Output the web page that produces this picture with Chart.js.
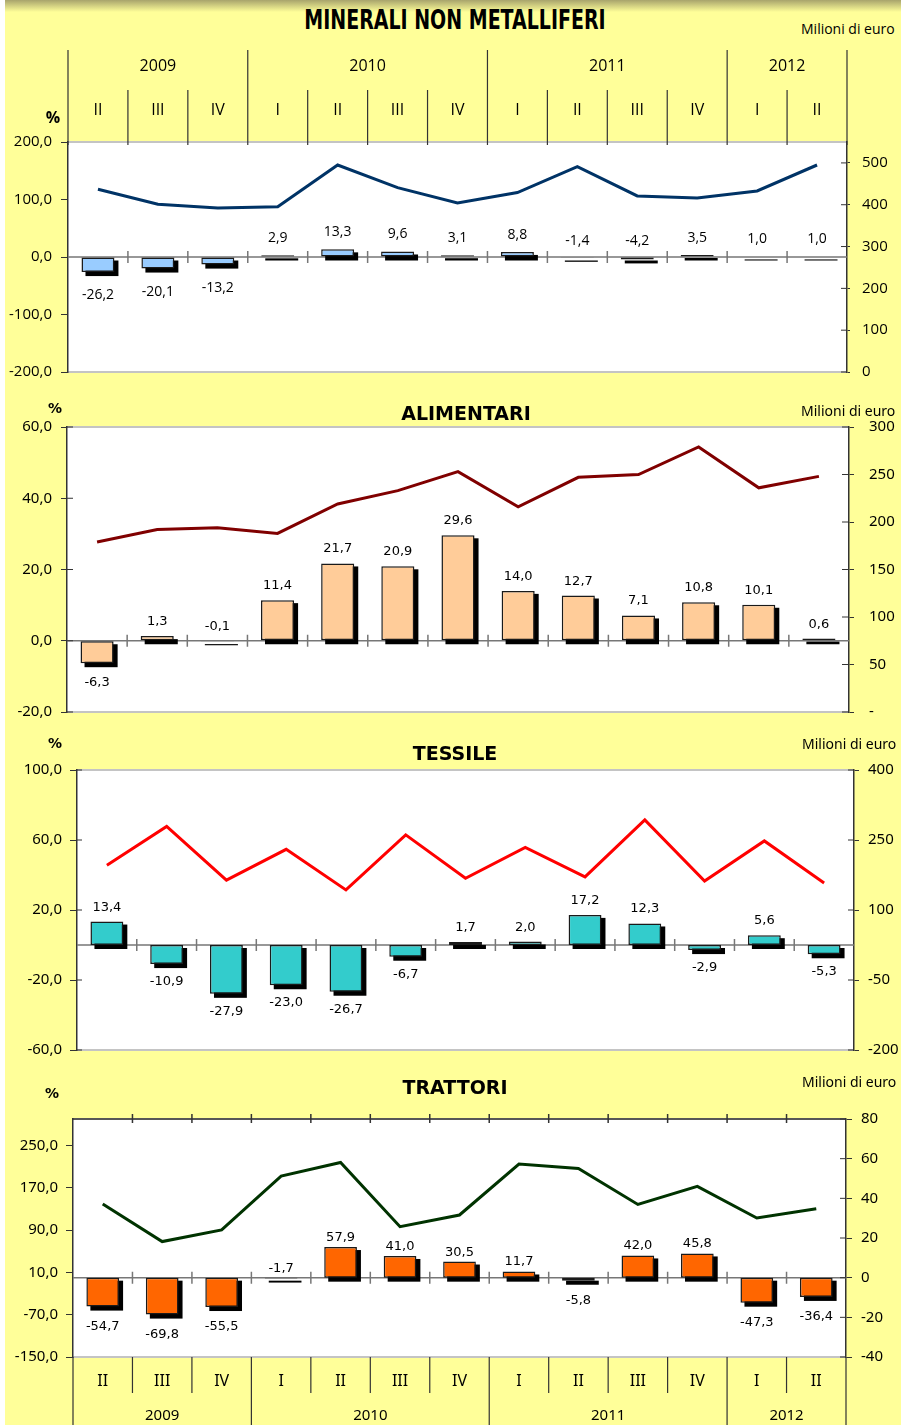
<!DOCTYPE html>
<html>
<head>
<meta charset="utf-8">
<script src="https://cdn.jsdelivr.net/npm/chart.js@4.4.1/dist/chart.umd.min.js"></script>
<style>
  html, body { margin: 0; padding: 0; }
  body { width: 901px; height: 1425px; overflow: hidden; position: relative; background: #fff; }
  #sheet { position: absolute; left: 5px; top: 0; width: 896px; height: 1425px; background: #ffff99; }
  #sheet:before { content: ""; position: absolute; left: 0; top: 0; right: 0; height: 12px;
    background: linear-gradient(#a8a46c, rgba(255, 255, 153, 0)); }
  canvas { position: absolute; left: 0; }
  .t { position: absolute; white-space: nowrap; transform: translate(-50%, -50%); color: #000; }
  .m { position: absolute; white-space: nowrap; transform: translateY(-50%); color: #000; }
</style>
</head>
<body>
<div id="sheet"></div>

<canvas id="c1" width="901" height="362" style="top:40px"></canvas>
<canvas id="c2" width="901" height="345" style="top:397px"></canvas>
<canvas id="c3" width="901" height="340" style="top:740px"></canvas>
<canvas id="c4" width="901" height="336" style="top:1089px"></canvas>

<div class="t" style="left:455px;top:20px;font:bold 26px 'DejaVu Sans';transform:translate(-50%,-50%) scaleX(0.73)">MINERALI NON METALLIFERI</div>
<div class="m" style="left:801px;top:28px;font:14px 'Open Sans'">Milioni di euro</div>
<div class="t" style="left:53px;top:117px;font:bold 16px 'Open Sans'">%</div>

<div class="t" style="left:55px;top:408px;font:bold 14px 'DejaVu Sans'">%</div>
<div class="t" style="left:466px;top:413px;font:bold 19px 'DejaVu Sans'">ALIMENTARI</div>
<div class="m" style="left:801px;top:410px;font:14px 'Noto Sans'">Milioni di euro</div>

<div class="t" style="left:55px;top:743px;font:bold 14px 'DejaVu Sans'">%</div>
<div class="t" style="left:455px;top:753px;font:bold 19px 'DejaVu Sans'">TESSILE</div>
<div class="m" style="left:802px;top:743px;font:14px 'Noto Sans'">Milioni di euro</div>

<div class="t" style="left:52px;top:1093px;font:bold 14px 'DejaVu Sans'">%</div>
<div class="t" style="left:455px;top:1087px;font:bold 19px 'DejaVu Sans'">TRATTORI</div>
<div class="m" style="left:802px;top:1081px;font:14px 'Noto Sans'">Milioni di euro</div>

<script>
// trimestri e anni
const quarters = ["II", "III", "IV", "I", "II", "III", "IV", "I", "II", "III", "IV", "I", "II"];
const years = ["2009", "2010", "2011", "2012"];
const quartersPerYear = [3, 4, 4, 2];

// variazioni % (barre) e valori in milioni di euro (linea)
const mineraliVar = [-26.2, -20.1, -13.2, 2.9, 13.3, 9.6, 3.1, 8.8, -1.4, -4.2, 3.5, 1.0, 1.0];
const mineraliVal = [437, 401, 392, 395, 495, 441, 404, 429, 491, 421, 416, 433, 495];

const alimentariVar = [-6.3, 1.3, -0.1, 11.4, 21.7, 20.9, 29.6, 14.0, 12.7, 7.1, 10.8, 10.1, 0.6];
const alimentariVal = [179, 192, 194, 188, 219, 233, 253, 216, 247, 250, 279, 236, 248];

const tessileVar = [13.4, -10.9, -27.9, -23.0, -26.7, -6.7, 1.7, 2.0, 17.2, 12.3, -2.9, 5.6, -5.3];
const tessileVal = [196, 279, 164, 230, 143, 261, 168, 234, 171, 293, 162, 248, 158];

const trattoriVar = [-54.7, -69.8, -55.5, -1.7, 57.9, 41.0, 30.5, 11.7, -5.8, 42.0, 45.8, -47.3, -36.4];
const trattoriVal = [37.1, 18.2, 24.1, 51.2, 58.1, 25.7, 31.6, 57.3, 55.0, 36.9, 46.0, 30.1, 34.8];

// tacche degli assi
const mineraliTicksL = [-200, -100, 0, 100, 200];
const mineraliTicksR = [0, 100, 200, 300, 400, 500];
const alimentariTicksL = [-20, 0, 20, 40, 60];
const alimentariTicksR = [0, 50, 100, 150, 200, 250, 300];
const tessileTicksL = [-60, -20, 20, 60, 100];
const tessileTicksR = [-200, -50, 100, 250, 400];
const trattoriTicksL = [-150, -70, 10, 90, 170, 250];
const trattoriTicksR = [-40, -20, 0, 20, 40, 60, 80];

const fmt1 = (v) => Number(v).toFixed(1).replace(".", ",");

// sfondo bianco, linea dello zero, ombre delle barre, etichette, intestazioni
const panelDecor = {
  id: "panelDecor",
  beforeDraw(chart, args, o) {
    const { ctx, chartArea: a } = chart;
    ctx.save();
    ctx.fillStyle = "#fff";
    ctx.fillRect(a.left, a.top, a.width, a.height);
    ctx.strokeStyle = "#c4c4c4";
    ctx.lineWidth = 2;
    ctx.beginPath();
    ctx.moveTo(a.left, a.top); ctx.lineTo(a.right, a.top);
    ctx.moveTo(a.left, a.bottom); ctx.lineTo(a.right, a.bottom);
    ctx.stroke();
    ctx.restore();
  },
  beforeDatasetsDraw(chart, args, o) {
    const { ctx, chartArea: a, scales } = chart;
    const x = scales.x, y = scales.y;
    const n = chart.data.labels.length;
    const y0 = y.getPixelForValue(0);
    ctx.save();
    // linea dello zero con tacche fra le categorie
    ctx.strokeStyle = "#777";
    ctx.lineWidth = 1.5;
    ctx.beginPath();
    ctx.moveTo(a.left, y0); ctx.lineTo(a.right, y0);
    for (let i = 1; i < n; i++) {
      const bx = x.getPixelForValue(i - 0.5);
      ctx.moveTo(bx, y0 - 6); ctx.lineTo(bx, y0 + 6);
    }
    ctx.stroke();
    // ombre nere delle barre
    const meta = chart.getDatasetMeta(1);
    ctx.fillStyle = "#000";
    meta.data.forEach((el) => {
      const top = Math.min(el.y, el.base), bot = Math.max(el.y, el.base);
      ctx.fillRect(el.x - el.width / 2 + 4, top + 3, el.width, bot - top + 1);
    });
    ctx.restore();
  },
  afterDatasetsDraw(chart, args, o) {
    const { ctx, chartArea: a, scales } = chart;
    const x = scales.x;
    const n = chart.data.labels.length;
    ctx.save();

    // tacche interne degli assi verticali
    ctx.strokeStyle = "#333";
    ctx.lineWidth = 1;
    ctx.beginPath();
    if (o.innerL) scales.y.ticks.forEach((t) => {
      const py = scales.y.getPixelForValue(t.value);
      ctx.moveTo(a.left, py); ctx.lineTo(a.left + o.innerL, py);
    });
    if (o.innerR) scales.y1.ticks.forEach((t) => {
      const py = scales.y1.getPixelForValue(t.value);
      ctx.moveTo(a.right, py); ctx.lineTo(a.right - o.innerR, py);
    });
    ctx.stroke();

    // etichette dei valori
    const meta = chart.getDatasetMeta(1);
    const vals = chart.data.datasets[1].data;
    ctx.font = o.labelFont;
    ctx.fillStyle = "#000";
    ctx.textAlign = "center";
    ctx.textBaseline = "alphabetic";
    meta.data.forEach((el, i) => {
      const v = vals[i];
      const h = Math.abs(el.base - el.y);
      if (v >= 0 || h < 2.5) {
        ctx.fillText(fmt1(v), el.x, Math.min(el.y, el.base) - o.gapPos);
      } else {
        ctx.fillText(fmt1(v), el.x, el.y + o.gapNeg);
      }
    });

    // confini fra anni
    const yearEdges = [0];
    quartersPerYear.forEach((q, i) => yearEdges.push(yearEdges[i] + q));
    const edgePx = (i) => x.getPixelForValue(i - 0.5);

    if (o.header || o.footer) {
      ctx.strokeStyle = "#333";
      ctx.lineWidth = 1.2;
      ctx.beginPath();
      for (let i = 0; i <= n; i++) {
        const bx = edgePx(i);
        const isYear = yearEdges.includes(i);
        if (o.header) {
          ctx.moveTo(bx, a.top - (isYear ? o.header.yearTop : o.header.quarterTop));
          ctx.lineTo(bx, a.top + 3);
        } else {
          ctx.moveTo(bx, a.bottom);
          ctx.lineTo(bx, a.bottom + (isYear ? o.footer.yearLen : o.footer.quarterLen));
        }
      }
      ctx.stroke();
      ctx.font = o.yearFont;
      ctx.textBaseline = "middle";
      years.forEach((yr, k) => {
        const cx = (edgePx(yearEdges[k]) + edgePx(yearEdges[k + 1])) / 2;
        const cy = o.header ? a.top - o.header.yearLabel : a.bottom + o.footer.yearLabel;
        ctx.fillText(yr, cx, cy);
      });
    }

    // asse superiore scuro con tacche (trattori)
    if (o.topAxis) {
      ctx.strokeStyle = "#333";
      ctx.lineWidth = 1.5;
      ctx.beginPath();
      ctx.moveTo(a.left, a.top); ctx.lineTo(a.right, a.top);
      for (let i = 1; i < n; i++) {
        const bx = edgePx(i);
        ctx.moveTo(bx, a.top - 5); ctx.lineTo(bx, a.top + 4);
      }
      ctx.stroke();
    }
    ctx.restore();
  },
};

function buildPanel(p) {
  const tickFont = p.tickFont;
  return new Chart(document.getElementById(p.id), {
    plugins: [panelDecor],
    data: {
      labels: quarters,
      datasets: [
        {
          type: "line",
          data: p.values,
          yAxisID: "y1",
          borderColor: p.lineColor,
          borderWidth: 3,
          pointRadius: 0,
          tension: 0,
          order: 0,
        },
        {
          type: "bar",
          data: p.changes,
          yAxisID: "y",
          backgroundColor: p.barColor,
          borderColor: "#1a1a1a",
          borderWidth: 1.5,
          borderSkipped: false,
          barPercentage: 0.55,
          categoryPercentage: 1,
          order: 1,
        },
      ],
    },
    options: {
      responsive: false,
      animation: false,
      events: [],
      layout: { padding: { top: p.pad.top, bottom: p.pad.bottom, left: 0, right: 0 } },
      plugins: {
        legend: { display: false },
        tooltip: { enabled: false },
        panelDecor: p.decor,
      },
      scales: {
        x: {
          display: !!p.xPos,
          position: p.xPos || "bottom",
          offset: true,
          grid: { display: false, drawTicks: false },
          border: { display: false },
          ticks: { font: p.xFont, color: "#000", padding: p.xPad, maxRotation: 0, autoSkip: false },
          afterFit: (s) => { s.height = p.xHeight; },
        },
        y: {
          position: "left",
          min: p.yL.min,
          max: p.yL.max,
          afterBuildTicks: (s) => { s.ticks = p.yL.ticks.map((v) => ({ value: v })); },
          grid: { drawOnChartArea: false, tickLength: p.tickLenL, color: "#333" },
          border: { color: "#333", width: 1.5 },
          ticks: { font: tickFont, color: "#000", padding: p.padL, callback: (v) => fmt1(v) },
          afterFit: (s) => { s.width = p.wL; },
        },
        y1: {
          position: "right",
          min: p.yR.min,
          max: p.yR.max,
          afterBuildTicks: (s) => { s.ticks = p.yR.ticks.map((v) => ({ value: v })); },
          grid: { drawOnChartArea: false, tickLength: p.tickLenR, color: "#333" },
          border: { color: "#333", width: 1.5 },
          ticks: {
            font: tickFont,
            color: "#000",
            padding: p.padR,
            callback: (v) => (p.zeroDash && v === 0 ? "-" : String(v)),
          },
          afterFit: (s) => { s.width = p.wR; },
        },
      },
    },
  });
}

buildPanel({
  id: "c1",
  changes: mineraliVar,
  values: mineraliVal,
  barColor: "#99ccff",
  lineColor: "#003366",
  yL: { min: -200, max: 200, ticks: mineraliTicksL },
  yR: { min: 0, max: 550, ticks: mineraliTicksR },
  wL: 68, wR: 54,
  pad: { top: 0, bottom: 30 },
  xPos: "top", xHeight: 102, xPad: 22,
  xFont: { family: "Open Sans", size: 16 },
  tickFont: { family: "Open Sans", size: 15 },
  tickLenL: 7, tickLenR: 3, padL: 9, padR: 12,
  decor: {
    labelFont: "14px 'Open Sans'", gapPos: 13, gapNeg: 27,
    innerL: 0, innerR: 6,
    yearFont: "16px 'Open Sans'",
    header: { yearTop: 92, quarterTop: 52, yearLabel: 76 },
  },
});

buildPanel({
  id: "c2",
  changes: alimentariVar,
  values: alimentariVal,
  barColor: "#ffcc99",
  lineColor: "#800000",
  yL: { min: -20, max: 60, ticks: alimentariTicksL },
  yR: { min: 0, max: 300, ticks: alimentariTicksR },
  wL: 67, wR: 52,
  pad: { top: 30, bottom: 30 },
  xPos: null, xHeight: 0, xPad: 0,
  xFont: { family: "Noto Sans", size: 15 },
  tickFont: { family: "Noto Sans", size: 15 },
  tickLenL: 6, tickLenR: 5, padL: 9, padR: 15,
  zeroDash: true,
  decor: { labelFont: "13px 'DejaVu Sans'", gapPos: 11, gapNeg: 23, innerL: 6, innerR: 7 },
});

buildPanel({
  id: "c3",
  changes: tessileVar,
  values: tessileVal,
  barColor: "#33cccc",
  lineColor: "#ff0000",
  yL: { min: -60, max: 100, ticks: tessileTicksL },
  yR: { min: -200, max: 400, ticks: tessileTicksR },
  wL: 77, wR: 47,
  pad: { top: 30, bottom: 30 },
  xPos: null, xHeight: 0, xPad: 0,
  xFont: { family: "Noto Sans", size: 15 },
  tickFont: { family: "Noto Sans", size: 15 },
  tickLenL: 7, tickLenR: 5, padL: 8, padR: 9,
  decor: { labelFont: "13px 'DejaVu Sans'", gapPos: 11, gapNeg: 21, innerL: 5, innerR: 6 },
});

buildPanel({
  id: "c4",
  changes: trattoriVar,
  values: trattoriVal,
  barColor: "#ff6600",
  lineColor: "#003300",
  yL: { min: -150, max: 300, ticks: trattoriTicksL },
  yR: { min: -40, max: 80, ticks: trattoriTicksR },
  wL: 73, wR: 55,
  pad: { top: 30, bottom: 0 },
  xPos: "bottom", xHeight: 68, xPad: 15,
  xFont: { family: "Noto Sans", size: 16 },
  tickFont: { family: "Noto Sans", size: 15 },
  tickLenL: 7, tickLenR: 6, padL: 8, padR: 9,
  decor: {
    labelFont: "13px 'DejaVu Sans'", gapPos: 6, gapNeg: 23,
    innerL: 0, innerR: 6,
    yearFont: "15px 'Noto Sans'",
    footer: { quarterLen: 36, yearLen: 68, yearLabel: 59 },
    topAxis: true,
  },
});
</script>
</body>
</html>
